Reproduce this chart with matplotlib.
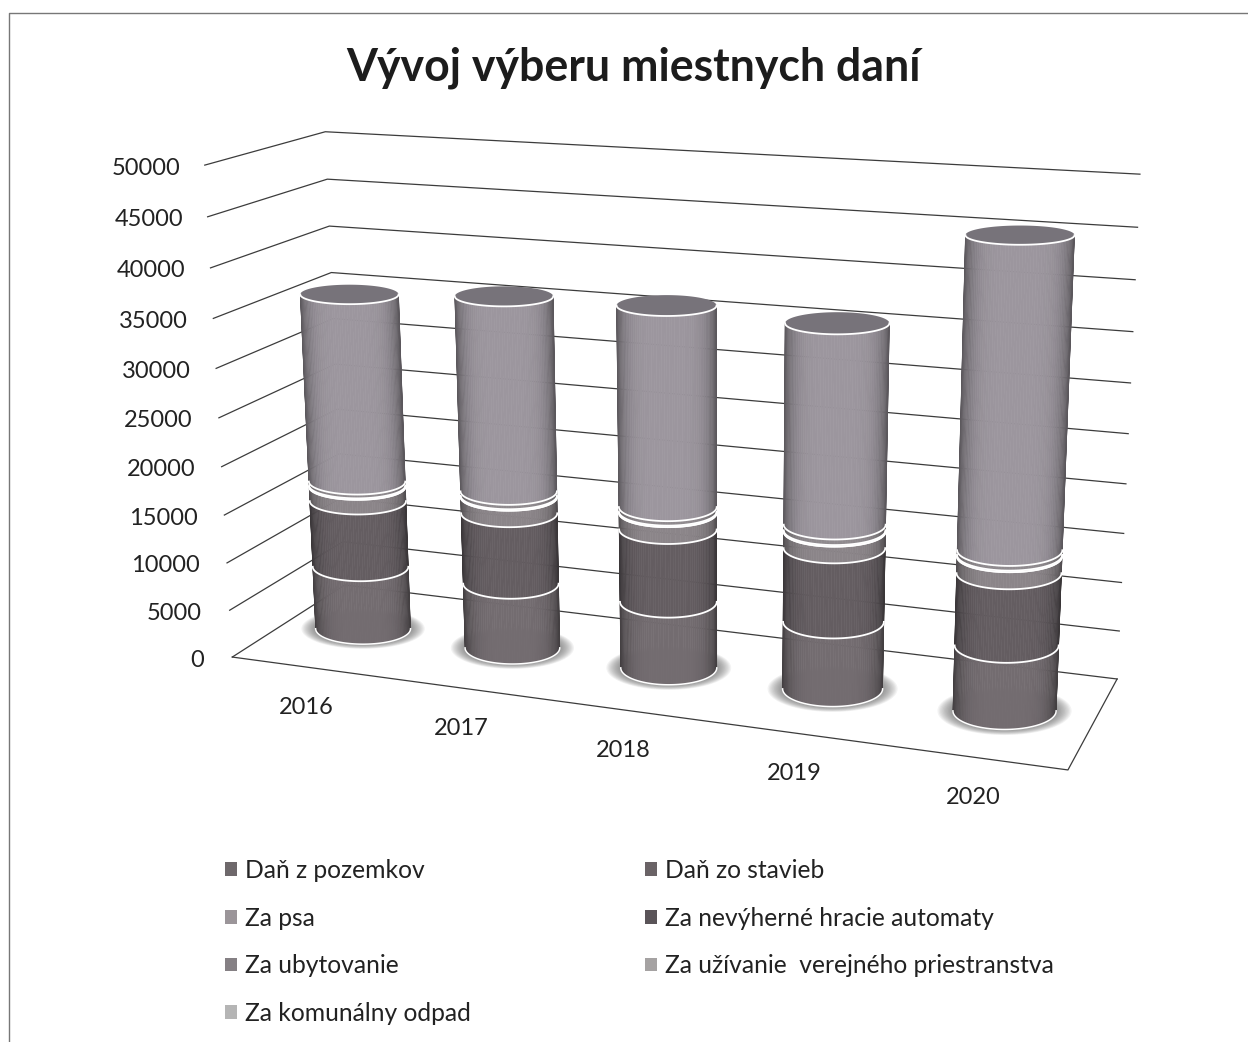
import numpy as np
import matplotlib
matplotlib.use('Agg')
import matplotlib.pyplot as plt
from matplotlib.collections import PolyCollection
from matplotlib.patches import Patch

plt.rcParams['font.family'] = ['Lato', 'DejaVu Sans']

years = ['2016', '2017', '2018', '2019', '2020']
series_names = ['Daň z pozemkov', 'Daň zo stavieb', 'Za psa', 'Za nevýherné hracie automaty',
                'Za ubytovanie', 'Za užívanie  verejného priestranstva', 'Za komunálny odpad']
dan_z_pozemkov = [6800, 6900, 6950, 6900, 6600]
dan_zo_stavieb = [7100, 7450, 7500, 7480, 7170]
za_psa = [1550, 1700, 1700, 1650, 1650]
za_automaty = [0, 0, 0, 0, 0]
za_ubytovanie = [150, 150, 150, 150, 150]
za_priestranstvo = [400, 450, 450, 550, 450]
za_odpad = [19600, 19950, 20150, 19700, 29800]
ticks = [0, 5000, 10000, 15000, 20000, 25000, 30000, 35000, 40000, 45000, 50000]

all_series = [dan_z_pozemkov, dan_zo_stavieb, za_psa, za_automaty, za_ubytovanie, za_priestranstvo, za_odpad]
side_colors = ['#736c70', '#645d61', '#8b8589', '#5a5458', '#858084', '#8f8a8e', '#9c969e']
legend_colors = ['#6e686b', '#6a6366', '#9b9599', '#5a5458', '#858084', '#a5a2a2', '#b5b5b5']

# camera fitted on the corners of the 3d box, (category, depth, value) -> pixel
vmax = 50000.0
box = [(0, 0, 0, 232, 658), (5, 0, 0, 1068, 769), (5, 1, 0, 1117, 680), (0, 1, 0, 345, 584),
       (0, 1, 1, 325, 132), (5, 1, 1, 1140, 174), (0, 0, 1, 205, 165)]
rows = []
for cx, cd, cv, px, py in box:
    rows.append([cx, cd, cv, 1, 0, 0, 0, 0, -px*cx, -px*cd, -px*cv, -px])
    rows.append([0, 0, 0, 0, cx, cd, cv, 1, -py*cx, -py*cd, -py*cv, -py])
P = np.linalg.svd(np.array(rows, float))[2][-1].reshape(3, 4)

def project(x, d, v):
    x, d, v = np.broadcast_arrays(np.asarray(x, float), np.asarray(d, float), np.asarray(v, float))
    h = P @ np.array([x.ravel(), d.ravel(), v.ravel()/vmax, np.ones(x.size)])
    return h[0]/h[2], h[1]/h[2]

# left columns look wider than the camera gives them
col_rx = [0.325, 0.31, 0.30, 0.298, 0.293]
rd = 0.21

def ellipse(i, v, t, scale=1.0):
    # ellipses stay level like in the original, only their size follows the perspective
    cx = i + 0.5
    x0, y0 = project(cx, 0.5, v)
    xl, _ = project(cx-col_rx[i], 0.5, v)
    xr, _ = project(cx+col_rx[i], 0.5, v)
    _, yf = project(cx, 0.5-rd, v)
    _, yb = project(cx, 0.5+rd, v)
    a = (xr[0]-xl[0])/2*scale
    b = (yf[0]-yb[0])/2*scale
    return x0[0]+a*np.cos(t), y0[0]-b*np.sin(t)

fig = plt.figure(figsize=(12.48, 10.42), dpi=100)
ax = fig.add_axes([0, 0, 1, 1])
ax.set_xlim(0, 1248)
ax.set_ylim(1042, 0)
ax.axis('off')

# frame of the scanned chart, the right side is cut off
ax.plot([9, 9, 1248], [1042, 12.5, 12.5], color='#777777', lw=1.0)

ax.text(633.5, 68, 'Vývoj výberu miestnych daní', ha='center', va='center',
        fontsize=32.1, fontweight='bold', color='#1c1c1c')

# walls and floor
line_col = '#3c3c3c'
for t in ticks:
    xs, ys = project([0, 0, 5], [0, 1, 1], [t, t, t])
    ax.plot(xs, ys, color=line_col, lw=0.9, zorder=1)
    ax.text(xs[0]-24-4*(1-t/vmax), ys[0]+3, str(t), ha='right', va='center', fontsize=17, color='#222222')
xs, ys = project([0, 5, 5], [0, 0, 1], [0, 0, 0])
ax.plot(xs, ys, color=line_col, lw=0.9, zorder=1)

for i, y in enumerate(years):
    xs, ys = project(i+0.5, 0, 0)
    ax.text(xs[0]-1, ys[0]+40, y, ha='center', va='center', fontsize=17, color='#222222')

# cylinders
theta = np.linspace(np.pi, 2*np.pi, 61)
full = np.linspace(0, 2*np.pi, 121)
totals = np.array(all_series, float)

for i in range(len(years)):
    # shadow on the floor
    for s in np.linspace(1.3, 1.02, 12):
        xs, ys = ellipse(i, 0, full, s)
        ax.fill(xs, ys, color='#555555', alpha=0.07, lw=0, zorder=2)

    base = 0.0
    for k in range(len(all_series)):
        top = base + totals[k][i]
        if top > base:
            xb, yb = ellipse(i, base, theta)
            xt, yt = ellipse(i, top, theta)
            polys, cols = [], []
            for j in range(len(theta)-1):
                polys.append([(xb[j], yb[j]), (xb[j+1], yb[j+1]), (xt[j+1], yt[j+1]), (xt[j], yt[j])])
                u = abs(np.cos((theta[j]+theta[j+1])/2))
                shade = 0.58 + 0.42*(1-u**5)
                cols.append(np.array(matplotlib.colors.to_rgb(side_colors[k]))*shade)
            ax.add_collection(PolyCollection(polys, facecolors=cols, edgecolors=cols, linewidths=0.4, zorder=3+i))
        base = top
    # white rims, drawn after the sides
    xs, ys = ellipse(i, 0, theta)
    ax.plot(xs, ys, color='white', lw=1.1, zorder=3+i+0.5)
    base = 0.0
    for k in range(len(all_series)):
        base = base + totals[k][i]
        xs, ys = ellipse(i, base, theta)
        ax.plot(xs, ys, color='white', lw=1.3, zorder=3+i+0.5)
    xs, ys = ellipse(i, base, full)
    ax.fill(xs, ys, color='#77737a', lw=0, zorder=3+i+0.4)

# legend fills column by column, the original reads row by row
order = [0, 2, 4, 6, 1, 3, 5]
handles = [Patch(facecolor=legend_colors[k], edgecolor='none', label=series_names[k]) for k in order]
ax.legend(handles=handles, ncols=2, loc='upper left', bbox_to_anchor=(225/1248, 1-859/1042),
          frameon=False, fontsize=17.75, handlelength=0.49, handleheight=0.49, handletextpad=0.33,
          labelspacing=1.0, columnspacing=7.05, borderaxespad=0, borderpad=0, labelcolor='#222222')

fig.savefig('out.png', dpi=100, facecolor='white')
